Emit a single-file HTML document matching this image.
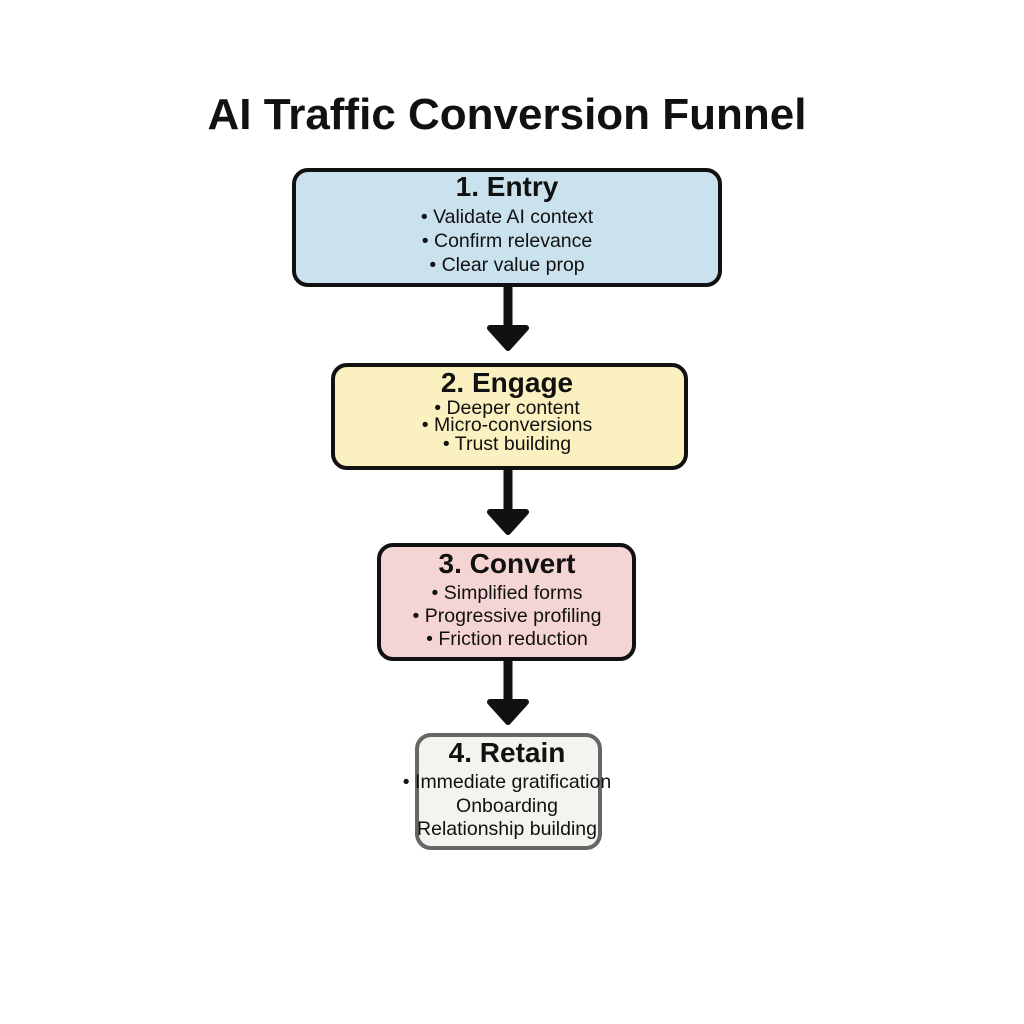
<!DOCTYPE html>
<html><head><meta charset="utf-8"><style>
body{margin:0;width:1024px;height:1024px;background:#fff;position:relative;font-family:"Liberation Sans",sans-serif;overflow:hidden}
.t{position:absolute;left:0;width:1014px;text-align:center;white-space:nowrap;color:#111}
.b{position:absolute;box-sizing:border-box;border:4px solid #111;border-radius:16px}
.h{font-weight:bold;font-size:28px}
.l{font-size:19.5px}
</style></head><body>
<div class="t" style="top:90px;font-size:44px;font-weight:bold;">AI Traffic Conversion Funnel</div>

<div class="b" style="left:292px;top:168px;width:430px;height:119px;background:#c9e2ee"></div>
<div class="t h" style="top:171px">1. Entry</div>
<div class="t l" style="top:206px">• Validate AI context</div>
<div class="t l" style="top:230px">• Confirm relevance</div>
<div class="t l" style="top:254px">• Clear value prop</div>

<div class="b" style="left:331px;top:363px;width:357px;height:107px;background:#faf0c0"></div>
<div class="t h" style="top:367px">2. Engage</div>
<div class="t l" style="top:397px">• Deeper content</div>
<div class="t l" style="top:414px">• Micro-conversions</div>
<div class="t l" style="top:433px">• Trust building</div>

<div class="b" style="left:377px;top:543px;width:259px;height:118px;background:#f5d5d3"></div>
<div class="t h" style="top:548px">3. Convert</div>
<div class="t l" style="top:582px">• Simplified forms</div>
<div class="t l" style="top:605px">• Progressive profiling</div>
<div class="t l" style="top:628px">• Friction reduction</div>

<div class="b" style="left:415px;top:733px;width:187px;height:117px;background:#f5f3ee;border-color:#666"></div>
<div class="t h" style="top:737px">4. Retain</div>
<div class="t l" style="top:771px">• Immediate gratification</div>
<div class="t l" style="top:795px">Onboarding</div>
<div class="t l" style="top:818px">Relationship building</div>

<svg width="1024" height="1024" style="position:absolute;left:0;top:0" fill="#111" stroke="#111" stroke-width="9" stroke-linecap="round" stroke-linejoin="round">
<path d="M508 288V330" fill="none"/><path d="M490 328L526 328L508 348Z" stroke-width="6"/>
<path d="M508 471V514" fill="none"/><path d="M490 512L526 512L508 532Z" stroke-width="6"/>
<path d="M508 662V704" fill="none"/><path d="M490 702L526 702L508 722Z" stroke-width="6"/>
</svg>
</body></html>
